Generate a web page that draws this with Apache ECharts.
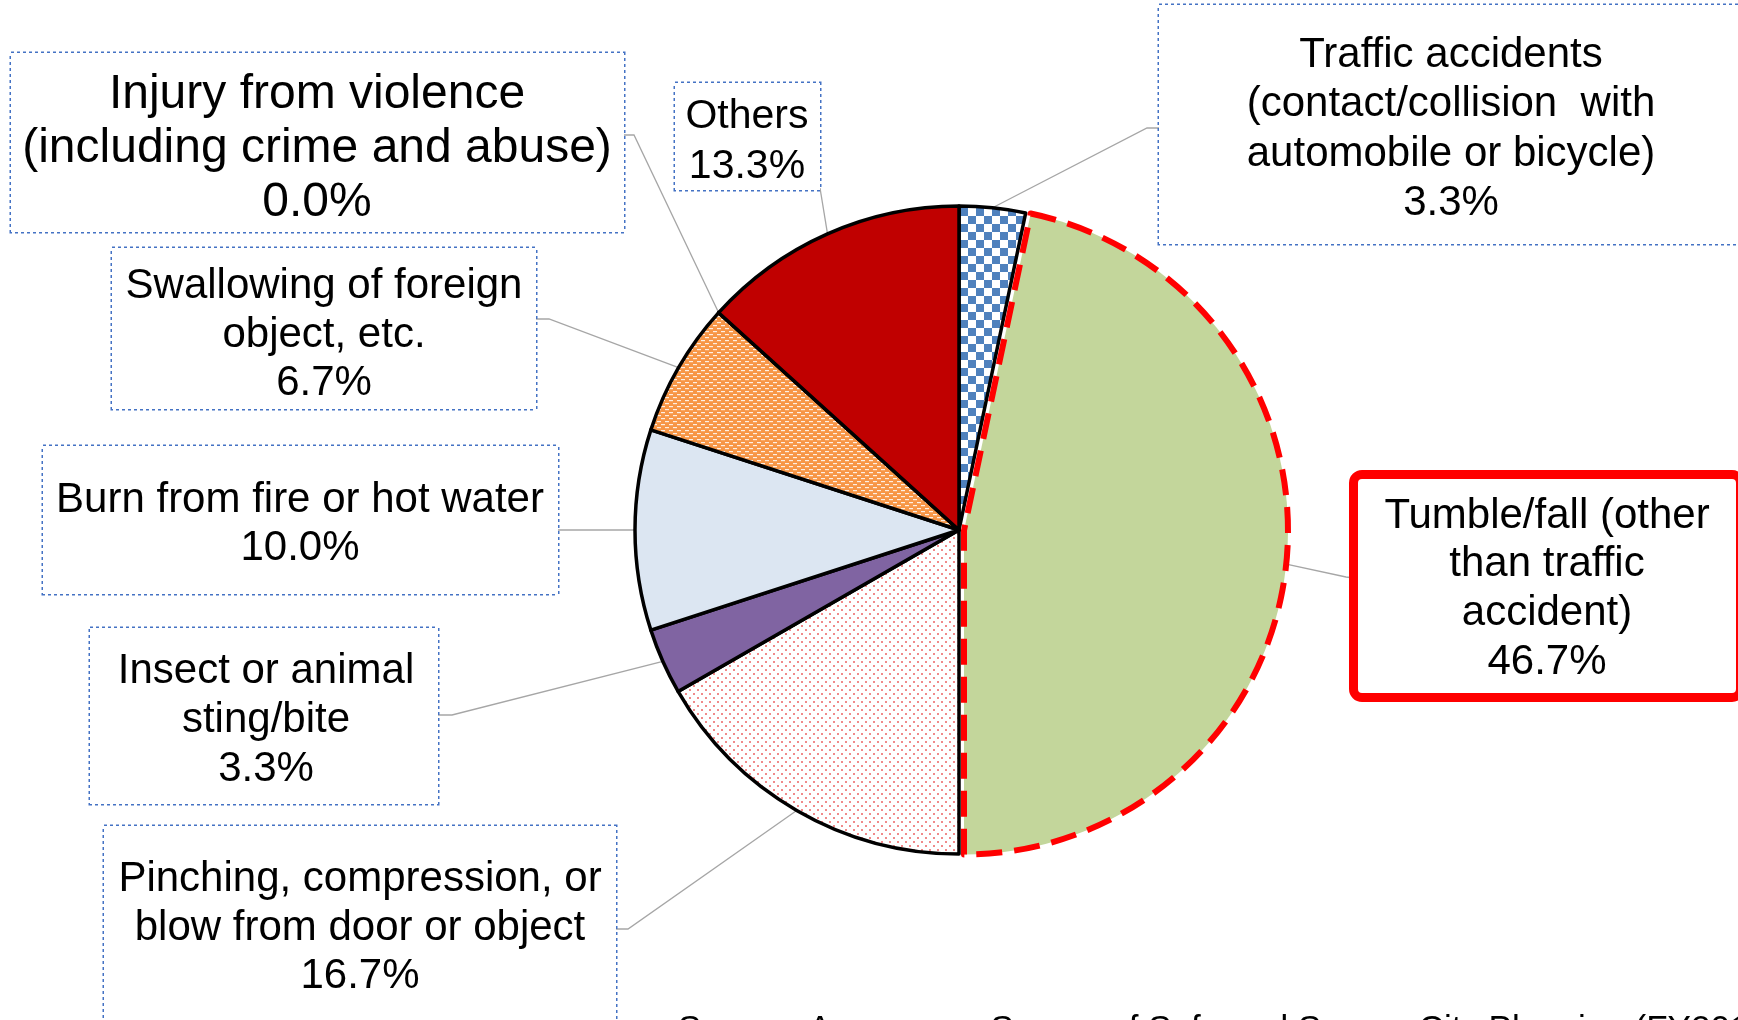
<!DOCTYPE html>
<html>
<head>
<meta charset="utf-8">
<script src="https://cdn.jsdelivr.net/npm/echarts@6/dist/echarts.min.js"></script>
<style>
html, body { margin: 0; padding: 0; background: #fff; }
#container { width: 1738px; height: 1020px; }
</style>
</head>
<body>
<div id="container"></div>
<script>
// categories, clockwise from 12 o'clock
var cats = [
    'Traffic accidents\n(contact/collision  with\nautomobile or bicycle)',
    'Tumble/fall (other\nthan traffic\naccident)',
    'Pinching, compression, or\nblow from door or object',
    'Insect or animal\nsting/bite',
    'Burn from fire or hot water',
    'Swallowing of foreign\nobject, etc.',
    'Injury from violence\n(including crime and abuse)',
    'Others'
];
var shares = [3.3, 46.7, 16.7, 3.3, 10.0, 6.7, 0.0, 13.3];
var sourceText = 'Source: Awareness Survey of Safe and Secure City Planning (FY2014)';
var pulled = 1; // slice drawn pulled out a little (Tumble/fall)

var font = "'Liberation Sans', Arial, sans-serif";

/*填充图案*/
function makePattern(w, h, bg, draw) {
    var c = document.createElement('canvas');
    c.width = w; c.height = h;
    var ctx = c.getContext('2d');
    ctx.fillStyle = bg;
    ctx.fillRect(0, 0, w, h);
    draw(ctx);
    return { image: c, repeat: 'repeat' };
}
var checker = makePattern(16, 16, '#fff', function (ctx) {
    ctx.fillStyle = '#4F81BD';
    ctx.fillRect(0, 0, 8, 8);
    ctx.fillRect(8, 8, 8, 8);
});
var orangeDash = makePattern(8, 6, '#F79646', function (ctx) {
    ctx.fillStyle = 'rgba(255,255,255,0.85)';
    ctx.fillRect(1, 1, 4, 1.2);
    ctx.fillRect(5, 4, 3, 1.2);
    ctx.fillRect(0, 4, 1, 1.2);
});
var pinkDots = makePattern(8, 8, '#fff', function (ctx) {
    ctx.fillStyle = '#F08A8A';
    ctx.fillRect(1, 1, 2, 2);
    ctx.fillRect(5, 5, 2, 2);
});
var fills = [checker, '#C3D69B', pinkDots, '#8064A2', '#DCE6F2', orangeDash, '#FFFFFF', '#C00000'];

// label boxes (pixel layout): box edges, text centre x, first line centre y, line height, font size, line attach point and elbow
var boxes = [
    { x0: 1159, y0: 5,   x1: 1760, y1: 244,  cx: 1451, l1: 55.5,  lh: 49.3, fs: 42, at: [1159, 128], el: [1147, 128] },
    { x0: 1358, y0: 479, x1: 1736, y1: 693,  cx: 1547, l1: 516,   lh: 48.7, fs: 42, at: [1354, 578], el: [1346, 577], red: true },
    { x0: 104,  y0: 826, x1: 616,  y1: 1070, cx: 360,  l1: 879.5, lh: 48.5, fs: 42, at: [616, 929],  el: [628, 929] },
    { x0: 90,   y0: 628, x1: 438,  y1: 804,  cx: 266,  l1: 671.5, lh: 49,   fs: 42, at: [438, 715],  el: [452, 715] },
    { x0: 43,   y0: 446, x1: 558,  y1: 594,  cx: 300,  l1: 500,   lh: 48.5, fs: 42, at: [558, 530],  el: [570, 530] },
    { x0: 112,  y0: 248, x1: 536,  y1: 409,  cx: 324,  l1: 286.5, lh: 48.5, fs: 42, at: [536, 319],  el: [549, 319] },
    { x0: 11,   y0: 53,  x1: 624,  y1: 232,  cx: 317,  l1: 95,    lh: 54,   fs: 48, at: [624, 135],  el: [634, 135] },
    { x0: 675,  y0: 83,  x1: 820,  y1: 190,  cx: 747,  l1: 116.5, lh: 50,   fs: 41, at: [820, 188],  el: [820, 188] }
];

function labelFor(i) {
    var b = boxes[i];
    var n = cats[i].split('\n').length + 1;
    var W = 2 * Math.min(b.cx - b.x0, b.x1 - b.cx) - 4;
    var padL = b.cx - W / 2 - b.x0;
    var padR = b.x1 - b.cx - W / 2;
    var padT = b.l1 - b.lh / 2 - b.y0;
    var padB = (b.y1 - b.y0) - padT - n * b.lh;
    return {
        show: true,
        width: W,
        fontSize: b.fs,
        lineHeight: b.lh,
        padding: [padT, padR, padB, padL],
        backgroundColor: '#fff',
        borderColor: b.red ? '#FF0000' : '#4472C4',
        borderWidth: b.red ? 9 : 1.5,
        borderType: b.red ? 'solid' : 'dotted',
        borderRadius: b.red ? 4 : 0
    };
}

var hidden = {
    itemStyle: { color: 'rgba(0,0,0,0)', borderWidth: 0 },
    label: { show: false },
    labelLine: { show: false }
};

// 两个系列：一个画普通扇区，一个画拉出的扇区
function buildData(wantPulled) {
    var out = [];
    for (var i = 0; i < cats.length; i++) {
        var item = { name: cats[i], value: shares[i] };
        if ((i === pulled) !== wantPulled) {
            item.itemStyle = hidden.itemStyle;
            item.label = hidden.label;
            item.labelLine = hidden.labelLine;
        } else {
            item.itemStyle = { color: fills[i] };
            if (i === pulled) {
                item.itemStyle = { color: fills[i], borderColor: '#FF0000', borderWidth: 6, borderType: [26, 12] };
            }
            item.label = labelFor(i);
        }
        out.push(item);
    }
    return out;
}

function layoutLabel(p) {
    var b = boxes[p.dataIndex];
    var arc = p.labelLinePoints ? p.labelLinePoints[0] : b.el;
    return {
        x: (b.x0 + b.x1) / 2,
        y: b.y0,
        align: 'center',
        verticalAlign: 'top',
        labelLinePoints: [arc, b.el, b.at]
    };
}

function pieSeries(center, wantPulled) {
    return {
        type: 'pie',
        center: center,
        radius: 324,
        startAngle: 90,
        clockwise: true,
        avoidLabelOverlap: false,
        itemStyle: { borderColor: '#000', borderWidth: 3.5 },
        label: {
            show: true,
            position: 'outside',
            color: '#000',
            fontFamily: font,
            overflow: 'none',
            formatter: function (p) { return p.name + '\n' + p.value.toFixed(1) + '%'; }
        },
        labelLine: {
            show: true,
            length: 10,
            length2: 10,
            lineStyle: { color: '#A6A6A6', width: 1.3 }
        },
        labelLayout: layoutLabel,
        emphasis: { disabled: true },
        data: buildData(wantPulled)
    };
}

var myChart = echarts.init(document.getElementById('container'));
myChart.setOption({
    animation: false,
    backgroundColor: '#fff',
    graphic: [{
        type: 'text',
        left: 678,
        top: 1013,
        style: { text: sourceText, fontSize: 35, fontFamily: font, fill: '#000' }
    }],
    series: [
        pieSeries([959, 530], false),
        pieSeries([964, 530.5], true)
    ]
});
</script>
</body>
</html>
